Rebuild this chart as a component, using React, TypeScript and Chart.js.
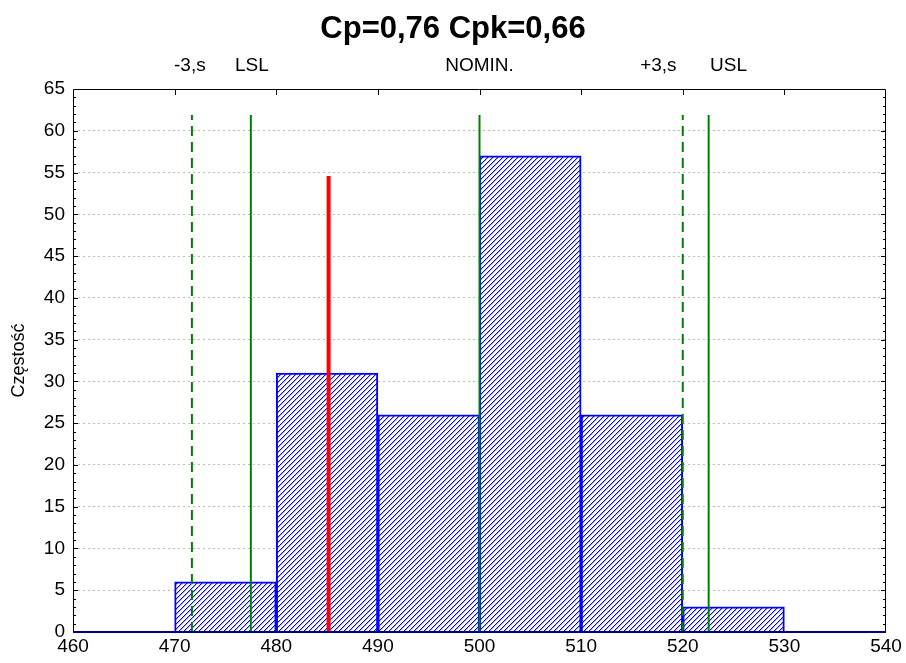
import { useEffect, useRef } from "react";
import { Chart, registerables } from "chart.js";

Chart.register(...registerables);

// ---- data ----
const titleText = "Cp=0,76 Cpk=0,66";
const yAxisTitle = "Częstość";
const binCenters = [475, 485, 495, 505, 515, 525];
const binCounts = [6, 31, 26, 57, 26, 3];
const xMin = 460;
const xMax = 540;
const xStep = 10;
const yMin = 0;
const yMax = 65;
const yStep = 5;
// reference lines: -3s, LSL, mean, nominal, +3s, USL
const markerNames = ["-3,s", "LSL", "mean", "NOMIN.", "+3,s", "USL"];
const markerValues = [471.7, 477.5, 485.15, 500, 520.0, 522.55];
const markerHeights = [61.9, 61.9, 54.6, 61.9, 61.9, 61.9];
const markerKinds = ["dashed", "solid", "mean", "solid", "dashed", "solid"];
// labels above the plot (anchor in data units)
const topLabels = ["-3,s", "LSL", "NOMIN.", "+3,s", "USL"];
const topLabelAt = [471.5, 477.6, 500, 517.6, 524.5];

const FONT = '"Liberation Sans", Arial, Helvetica, sans-serif';

function makeHatch(): CanvasPattern | string {
  const s = 5;
  const c = document.createElement("canvas");
  c.width = s;
  c.height = s;
  const g = c.getContext("2d");
  if (!g) return "#8080ff";
  g.fillStyle = "#ffffff";
  g.fillRect(0, 0, s, s);
  for (let i = 0; i < s; i++) {
    g.fillStyle = "#0000ff";
    g.fillRect(i, s - 1 - i, 1, 1);
    g.fillStyle = "#b0b0ff";
    g.fillRect((i + 1) % s, s - 1 - i, 1, 1);
  }
  return g.createPattern(c, "repeat") || "#8080ff";
}

const framePlugin = {
  id: "frame",
  afterDraw(chart: any) {
    const { ctx, chartArea, scales } = chart;
    const { left, right, top, bottom } = chartArea;
    const x = scales.x;
    const y = scales.y;
    ctx.save();
    ctx.strokeStyle = "#000000";
    ctx.lineWidth = 1;
    ctx.beginPath();
    for (let v = yMin + 1; v < yMax; v += 1) {
      const py = Math.round(y.getPixelForValue(v)) + 0.5;
      const len = v % yStep === 0 ? 5 : 3;
      ctx.moveTo(left, py);
      ctx.lineTo(left + len, py);
      ctx.moveTo(right, py);
      ctx.lineTo(right - len, py);
    }
    for (let v = xMin + xStep; v < xMax; v += xStep) {
      const px = Math.round(x.getPixelForValue(v)) + 0.5;
      ctx.moveTo(px, top);
      ctx.lineTo(px, top + 6);
    }
    ctx.stroke();
    // frame
    ctx.beginPath();
    ctx.moveTo(Math.round(left) + 0.5, bottom);
    ctx.lineTo(Math.round(left) + 0.5, Math.round(top) + 0.5);
    ctx.lineTo(Math.round(right) - 0.5, Math.round(top) + 0.5);
    ctx.lineTo(Math.round(right) - 0.5, bottom);
    ctx.stroke();
    ctx.strokeStyle = "#000080";
    ctx.lineWidth = 2;
    ctx.beginPath();
    ctx.moveTo(left, bottom);
    ctx.lineTo(right, bottom);
    ctx.stroke();
    // labels above plot
    ctx.fillStyle = "#000000";
    ctx.font = "19px " + FONT;
    ctx.textAlign = "center";
    ctx.textBaseline = "middle";
    topLabels.forEach((t, i) => {
      ctx.fillText(t, x.getPixelForValue(topLabelAt[i]), top - 23);
    });
    ctx.restore();
  },
};

export default function App() {
  const ref = useRef<HTMLCanvasElement | null>(null);

  useEffect(() => {
    const canvas = ref.current;
    if (!canvas) return;
    Chart.defaults.font.family = FONT;

    const markerDatasets = markerValues.map((v, i) => {
      const kind = markerKinds[i];
      return {
        type: "line" as const,
        label: markerNames[i],
        data: [
          { x: v, y: 0 },
          { x: v, y: markerHeights[i] },
        ],
        borderColor: kind === "mean" ? "#ff0000" : "#008000",
        borderWidth: kind === "mean" ? 4 : 2,
        borderDash: kind === "dashed" ? [10, 6] : [],
        pointRadius: 0,
        fill: false,
        order: 1,
        clip: false as any,
      };
    });

    const chart = new Chart(canvas, {
      type: "bar",
      data: {
        datasets: [
          ...markerDatasets,
          {
            type: "bar" as const,
            label: "Częstość",
            data: binCenters.map((c, i) => ({ x: c, y: binCounts[i] })),
            backgroundColor: makeHatch() as any,
            borderColor: "#0000ff",
            borderWidth: 2,
            barPercentage: 1,
            categoryPercentage: 1,
            order: 10,
          },
        ] as any,
      },
      options: {
        animation: false,
        responsive: false,
        maintainAspectRatio: false,
        layout: { padding: { left: 8, right: 8, top: 8, bottom: 8 } },
        plugins: {
          legend: { display: false },
          tooltip: { enabled: false },
          title: {
            display: true,
            text: titleText,
            color: "#000000",
            font: { size: 31, weight: "bold", family: FONT },
            padding: { top: 3, bottom: 40.8 },
          },
        },
        scales: {
          x: {
            type: "linear",
            min: xMin,
            max: xMax,
            offset: false,
            grid: { display: false, drawTicks: false, offset: false },
            border: { display: false },
            ticks: {
              stepSize: xStep,
              color: "#000000",
              font: { size: 19, family: FONT },
              padding: 3,
              maxRotation: 0,
            },
            afterFit(s: any) {
              s.height = 23;
              s.paddingLeft = 0;
              s.paddingRight = 20;
            },
          },
          y: {
            type: "linear",
            min: yMin,
            max: yMax,
            grid: {
              drawTicks: false,
              lineWidth: 1,
              color: (c: any) =>
                c.tick && (c.tick.value === yMin || c.tick.value === yMax)
                  ? "rgba(0,0,0,0)"
                  : "#bdbdbd",
            },
            border: { display: false, dash: [2, 3] },
            ticks: {
              stepSize: yStep,
              color: "#000000",
              font: { size: 19, family: FONT },
              padding: 8,
            },
            title: {
              display: true,
              text: yAxisTitle,
              color: "#000000",
              font: { size: 18, family: FONT },
              padding: 0,
            },
            afterFit(s: any) {
              s.width = 65;
            },
          },
        },
      } as any,
      plugins: [framePlugin],
    });

    return () => chart.destroy();
  }, []);

  return (
    <div>
      <canvas
        ref={ref}
        width={906}
        height={663}
        style={{ display: "block", position: "absolute", left: 0, top: 0 }}
      />
    </div>
  );
}
